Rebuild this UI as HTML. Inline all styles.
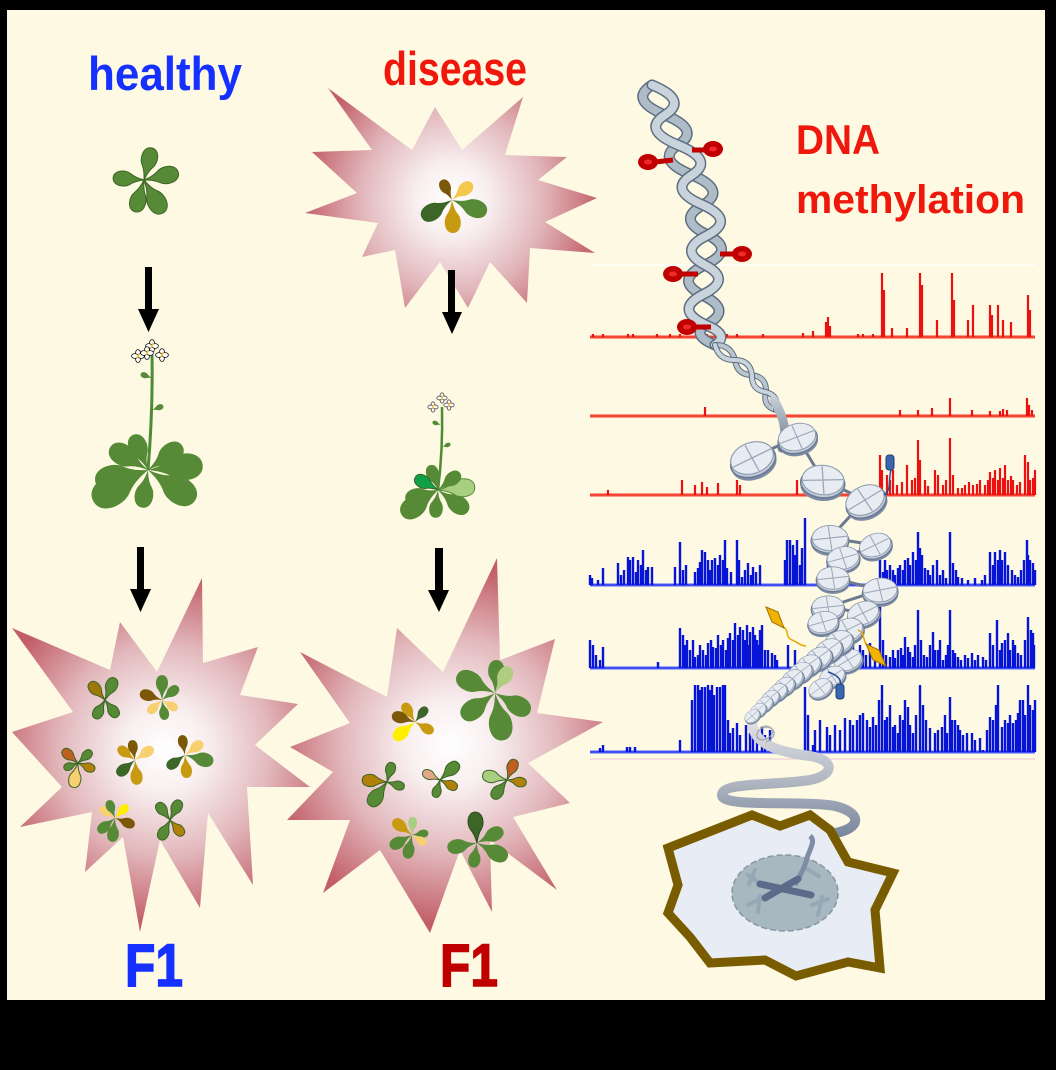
<!DOCTYPE html>
<html><head><meta charset="utf-8"><style>
html,body{margin:0;padding:0;background:#000;}
svg{display:block;}
</style></head><body>
<svg width="1056" height="1070" viewBox="0 0 1056 1070" xmlns="http://www.w3.org/2000/svg">
<defs>
<radialGradient id="g1" gradientUnits="userSpaceOnUse" cx="452" cy="200" r="150"><stop offset="0" stop-color="#fff"/><stop offset="0.25" stop-color="#f8eeef"/><stop offset="0.6" stop-color="#e2b8bc"/><stop offset="1" stop-color="#c25e68"/></radialGradient>
<radialGradient id="g2" gradientUnits="userSpaceOnUse" cx="165" cy="750" r="175"><stop offset="0" stop-color="#fff"/><stop offset="0.25" stop-color="#f8eeef"/><stop offset="0.6" stop-color="#e2b8bc"/><stop offset="1" stop-color="#c25e68"/></radialGradient>
<radialGradient id="g3" gradientUnits="userSpaceOnUse" cx="450" cy="745" r="180"><stop offset="0" stop-color="#fff"/><stop offset="0.25" stop-color="#f8eeef"/><stop offset="0.6" stop-color="#e2b8bc"/><stop offset="1" stop-color="#c25e68"/></radialGradient>
<linearGradient id="rib" gradientUnits="userSpaceOnUse" x1="0" y1="715" x2="0" y2="840"><stop offset="0" stop-color="#e4e5e8"/><stop offset="0.5" stop-color="#b4bac4"/><stop offset="1" stop-color="#74829a"/></linearGradient>
<linearGradient id="tail" gradientUnits="userSpaceOnUse" x1="0" y1="395" x2="0" y2="450"><stop offset="0" stop-color="#c9d2da"/><stop offset="1" stop-color="#6c7a90"/></linearGradient>
<path id="lf" d="M0,0 C5,-1 9,-2 13,-5 C18,-9 30,-8 30,0 C30,8 18,9 13,5 C9,2 5,1 0,0Z" vector-effect="non-scaling-stroke"/>
<g id="nuc">
 <ellipse cx="0" cy="6" rx="21" ry="14" fill="#7d8ca4"/>
 <ellipse cx="0" cy="3" rx="21" ry="14" fill="#c6cdd9" stroke="#6a7993" stroke-width="1.5"/>
 <ellipse cx="0" cy="0" rx="20" ry="14" fill="#e7ebf2" stroke="#8a98ad" stroke-width="1"/>
 <path d="M-19,2 L19,-2 M-2,-13 L2,13" stroke="#9aa6b8" stroke-width="1.2" fill="none"/>
</g>
<g id="fw">
 <ellipse cx="0" cy="-3.2" rx="2.4" ry="3.2" fill="#fff" stroke="#111" stroke-width="0.8"/>
 <ellipse cx="0" cy="3.2" rx="2.4" ry="3.2" fill="#fff" stroke="#111" stroke-width="0.8"/>
 <ellipse cx="-3.2" cy="0" rx="3.2" ry="2.4" fill="#fff" stroke="#111" stroke-width="0.8"/>
 <ellipse cx="3.2" cy="0" rx="3.2" ry="2.4" fill="#fff" stroke="#111" stroke-width="0.8"/>
 <path d="M-1,2 L1.5,-3" stroke="#f5c030" stroke-width="1.6"/>
</g>
</defs>

<!-- background -->
<rect x="0" y="0" width="1056" height="1070" fill="#000"/>
<rect x="7" y="10" width="1038" height="990" fill="#fdf9e2"/>

<!-- starbursts -->
<polygon fill="url(#g1)" points="328,88 412,150 435,107 462,150 523,97 505,155 567,157 538,180 597,198 545,222 595,253 530,248 527,303 490,262 468,308 440,262 405,308 395,250 362,257 378,223 305,213 357,193 312,152 372,150"/>
<polygon fill="url(#g2)" points="12,628 110,670 120,622 157,672 202,578 203,663 258,647 240,695 298,704 255,745 310,787 247,787 253,885 208,813 200,908 160,840 140,932 123,837 85,872 92,812 20,827 62,787 12,732 73,712"/>
<polygon fill="url(#g3)" points="300,652 387,697 397,628 443,672 497,558 500,660 555,639 537,713 603,722 528,763 570,803 513,817 557,890 490,840 492,912 460,850 430,933 380,850 323,893 350,820 287,820 333,772 290,747 350,723"/>

<!-- text -->
<g font-family="'Liberation Sans', Arial, sans-serif" font-weight="bold">
<text x="88" y="90" font-size="47" fill="#1530ff" textLength="154" lengthAdjust="spacingAndGlyphs">healthy</text>
<text x="383" y="85" font-size="47" fill="#f0180c" textLength="144" lengthAdjust="spacingAndGlyphs">disease</text>
<text x="796" y="154" font-size="42" fill="#ee180c" textLength="84" lengthAdjust="spacingAndGlyphs">DNA</text>
<text x="796" y="213" font-size="40" fill="#ee180c" textLength="229" lengthAdjust="spacingAndGlyphs">methylation</text>
<text x="125" y="986" font-size="60" fill="#1530ff" textLength="58" lengthAdjust="spacingAndGlyphs" stroke="#1530ff" stroke-width="1.5">F1</text>
<text x="440" y="986" font-size="60" fill="#c00000" textLength="58" lengthAdjust="spacingAndGlyphs" stroke="#c00000" stroke-width="1.5">F1</text>
</g>

<!-- arrows -->
<g fill="#000">
<rect x="145" y="267" width="7" height="44"/><polygon points="138,309 159,309 148.5,332"/>
<rect x="448" y="270" width="7" height="44"/><polygon points="442,312 462,312 452,334"/>
<rect x="137" y="547" width="7" height="44"/><polygon points="130,589 151,589 140.5,612"/>
<rect x="435" y="548" width="8" height="44"/><polygon points="428,590 449,590 439,612"/>
</g>

<!-- plants -->
<g stroke="#3c6424" stroke-width="1">
<g transform="translate(144 180)" fill="#568a36">
<use href="#lf" transform="rotate(-76) scale(1.1)"/><use href="#lf" transform="rotate(-12) scale(1.17)"/><use href="#lf" transform="rotate(184) scale(1.03)"/><use href="#lf" transform="rotate(106) scale(1.1)"/><use href="#lf" transform="rotate(60) scale(1.27)"/>
</g>
<g transform="translate(452 200)" stroke="none">
<use href="#lf" fill="#7a5808" transform="rotate(-117) scale(0.75)"/><use href="#lf" fill="#f3c84c" transform="rotate(-40) scale(0.87)"/><use href="#lf" fill="#3b6627" transform="rotate(149) scale(1.17)"/><use href="#lf" fill="#c89a12" transform="rotate(88) scale(1.1)"/><use href="#lf" fill="#568a36" transform="rotate(20) scale(1.23)"/>
</g>
<path d="M148,470 Q153,410 152,355" stroke="#4f8a34" stroke-width="3" fill="none"/>
<g fill="#568a36" stroke="none">
<use href="#lf" transform="translate(152 378) rotate(200) scale(0.4)"/>
<use href="#lf" transform="translate(152 410) rotate(-20) scale(0.4)"/>
</g>
<g transform="translate(148 470)" fill="#568a36" stroke="none">
<use href="#lf" transform="rotate(150) scale(2.1)"/><use href="#lf" transform="rotate(167) scale(1.8)"/><use href="#lf" transform="rotate(-149) scale(1.47)"/><use href="#lf" transform="rotate(-113) scale(1.27)"/><use href="#lf" transform="rotate(-36) scale(1.4)"/><use href="#lf" transform="rotate(-5) scale(1.83)"/><use href="#lf" transform="rotate(33) scale(1.87)"/><use href="#lf" transform="rotate(99) scale(1.27)"/>
</g>
<g stroke="none"><use href="#fw" transform="translate(138 356)"/><use href="#fw" transform="translate(162 355)"/><use href="#fw" transform="translate(152 346)"/><use href="#fw" transform="translate(147 353)"/></g>
<path d="M438,490 Q443,450 442,407" stroke="#4f8a34" stroke-width="2.5" fill="none"/>
<g fill="#568a36" stroke="none">
<use href="#lf" transform="translate(441 425) rotate(200) scale(0.3)"/>
<use href="#lf" transform="translate(442 447) rotate(-20) scale(0.3)"/>
</g>
<g transform="translate(438 490)" fill="#568a36" stroke="none">
<use href="#lf" transform="rotate(-108) scale(0.87)"/><use href="#lf" fill="#10a048" stroke="#3c6424" transform="rotate(-151) scale(0.87)"/><use href="#lf" transform="rotate(163) scale(1.13)"/><use href="#lf" transform="rotate(145) scale(1.47)"/><use href="#lf" transform="rotate(96) scale(0.93)"/><use href="#lf" transform="rotate(36) scale(1.23)"/><use href="#lf" fill="#a8cf80" stroke="#4f8a34" transform="rotate(-5) scale(1.23)"/><use href="#lf" transform="rotate(-38) scale(0.93)"/>
</g>
<g stroke="none"><use href="#fw" transform="translate(433 407) scale(0.8)"/><use href="#fw" transform="translate(442 398) scale(0.8)"/><use href="#fw" transform="translate(449 405) scale(0.8)"/></g>

<g transform="translate(105 700)" fill="#568a36"><use href="#lf" fill="#a07808" transform="rotate(-131) scale(0.77)"/><use href="#lf" transform="rotate(-66) scale(0.8)"/><use href="#lf" transform="rotate(119) scale(0.7)"/><use href="#lf" transform="rotate(53) scale(0.7)"/></g>
<g transform="translate(162 700)" fill="#568a36" stroke="none"><use href="#lf" fill="#7a5808" transform="rotate(-162) scale(0.77)"/><use href="#lf" transform="rotate(-90) scale(0.83)"/><use href="#lf" transform="rotate(-39) scale(0.7)"/><use href="#lf" fill="#f7d070" transform="rotate(137) scale(0.63)"/><use href="#lf" fill="#f7d070" transform="rotate(32) scale(0.6)"/><use href="#lf" transform="rotate(81) scale(0.67)"/></g>
<g transform="translate(78 763)" fill="#568a36"><use href="#lf" fill="#c06020" transform="rotate(-139) scale(0.67)"/><use href="#lf" transform="rotate(-42) scale(0.6)"/><use href="#lf" fill="#b08008" transform="rotate(22) scale(0.6)"/><use href="#lf" transform="rotate(159) scale(0.5)"/><use href="#lf" fill="#f7d070" transform="rotate(101) scale(0.83)"/></g>
<g transform="translate(135 760)" fill="#568a36" stroke="none"><use href="#lf" fill="#7a5808" transform="rotate(-99) scale(0.67)"/><use href="#lf" fill="#c89a12" transform="rotate(-143) scale(0.7)"/><use href="#lf" fill="#f7d070" transform="rotate(-34) scale(0.73)"/><use href="#lf" fill="#3b6627" transform="rotate(140) scale(0.77)"/><use href="#lf" fill="#c89a12" transform="rotate(85) scale(0.83)"/></g>
<g transform="translate(185 755)" fill="#568a36" stroke="none"><use href="#lf" fill="#7a5808" transform="rotate(-99) scale(0.67)"/><use href="#lf" fill="#f7d070" transform="rotate(-36) scale(0.73)"/><use href="#lf" transform="rotate(14) scale(0.97)"/><use href="#lf" fill="#3b6627" transform="rotate(144) scale(0.73)"/><use href="#lf" fill="#c89a12" transform="rotate(85) scale(0.77)"/></g>
<g transform="translate(115 818)" fill="#568a36" stroke="none"><use href="#lf" fill="#f7d070" transform="rotate(-146) scale(0.6)"/><use href="#lf" transform="rotate(-111) scale(0.63)"/><use href="#lf" fill="#ffee00" transform="rotate(-45) scale(0.6)"/><use href="#lf" fill="#7a5808" transform="rotate(21) scale(0.7)"/><use href="#lf" transform="rotate(140) scale(0.73)"/><use href="#lf" transform="rotate(97) scale(0.8)"/></g>
<g transform="translate(170 820)" fill="#568a36"><use href="#lf" transform="rotate(-127) scale(0.7)"/><use href="#lf" transform="rotate(-63) scale(0.73)"/><use href="#lf" fill="#b08008" transform="rotate(49) scale(0.67)"/><use href="#lf" transform="rotate(117) scale(0.73)"/></g>

<g transform="translate(415 722)" fill="#568a36" stroke="none"><use href="#lf" fill="#c89a12" transform="rotate(-122) scale(0.73)"/><use href="#lf" fill="#7a5808" transform="rotate(-163) scale(0.8)"/><use href="#lf" fill="#3b6627" transform="rotate(-51) scale(0.63)"/><use href="#lf" fill="#c89a12" transform="rotate(29) scale(0.7)"/><use href="#lf" fill="#ffee00" transform="rotate(141) scale(0.9)"/></g>
<g transform="translate(495 693)" fill="#568a36" stroke="none"><use href="#lf" transform="rotate(-87) scale(1.1)"/><use href="#lf" fill="#b0cc80" transform="rotate(-60) scale(1.0)"/><use href="#lf" transform="rotate(-155) scale(1.4)"/><use href="#lf" transform="rotate(143) scale(1.37)"/><use href="#lf" transform="rotate(80) scale(1.6)"/><use href="#lf" transform="rotate(29) scale(1.33)"/></g>
<g transform="translate(387 782)" fill="#568a36"><use href="#lf" fill="#b08008" transform="rotate(-175) scale(0.83)"/><use href="#lf" transform="rotate(-75) scale(0.67)"/><use href="#lf" transform="rotate(17) scale(0.6)"/><use href="#lf" transform="rotate(126) scale(0.97)"/></g>
<g transform="translate(440 780)" fill="#568a36"><use href="#lf" fill="#e4a888" transform="rotate(-155) scale(0.63)"/><use href="#lf" transform="rotate(-43) scale(0.83)"/><use href="#lf" fill="#b08008" transform="rotate(25) scale(0.63)"/><use href="#lf" transform="rotate(106) scale(0.6)"/></g>
<g transform="translate(507 780)" fill="#568a36"><use href="#lf" fill="#a8cf80" transform="rotate(-168) scale(0.83)"/><use href="#lf" fill="#c06020" transform="rotate(-68) scale(0.73)"/><use href="#lf" fill="#b08008" transform="rotate(9) scale(0.65)"/><use href="#lf" transform="rotate(128) scale(0.77)"/></g>
<g transform="translate(412 835)" fill="#568a36" stroke="none"><use href="#lf" fill="#c89a12" transform="rotate(-142) scale(0.8)"/><use href="#lf" fill="#a8cf80" transform="rotate(-87) scale(0.6)"/><use href="#lf" transform="rotate(-7) scale(0.55)"/><use href="#lf" fill="#f7d070" transform="rotate(32) scale(0.55)"/><use href="#lf" transform="rotate(151) scale(0.83)"/><use href="#lf" transform="rotate(102) scale(0.8)"/></g>
<g transform="translate(477 843)" fill="#568a36" stroke="none"><use href="#lf" fill="#3b6627" stroke="#2a4a1a" transform="rotate(-94) scale(1.03)"/><use href="#lf" transform="rotate(-27) scale(0.97)"/><use href="#lf" transform="rotate(27) scale(1.13)"/><use href="#lf" transform="rotate(99) scale(0.83)"/><use href="#lf" transform="rotate(170) scale(1.0)"/></g>
</g>

<!-- tracks -->
<line x1="590" y1="265" x2="1035" y2="265" stroke="#fffef6" stroke-width="2"/>
<line x1="590" y1="759" x2="1035" y2="759" stroke="#f2d8d8" stroke-width="1.5"/>
<g stroke-linecap="butt" fill="none">
<g stroke="#ff7060" stroke-width="4" opacity="0.7">
<line x1="590" y1="337" x2="1035" y2="337"/><line x1="590" y1="416" x2="1035" y2="416"/><line x1="590" y1="495" x2="1035" y2="495"/>
</g>
<g stroke="#f02818" stroke-width="1.5">
<line x1="590" y1="337" x2="1035" y2="337"/><line x1="590" y1="416" x2="1035" y2="416"/><line x1="590" y1="495" x2="1035" y2="495"/>
</g>
<g stroke="#ec1010" stroke-width="2.2">
<path d="M593,337V334M603,337V334M628,337V334M633,337V334M657,337V334M670,337V334M680,337V334M707,337V334M717,337V334M727,337V334M737,337V334M763,337V334M803,337V333M813,337V331M826,337V322M828,337V317M830,337V326M858,337V334M863,337V334M873,337V334M882,337V273M884,337V290M892,337V328M907,337V328M920,337V273M922,337V285M937,337V320M952,337V273M954,337V300M968,337V320M973,337V305M990,337V305M992,337V315M998,337V305M1003,337V320M1011,337V322M1028,337V295M1030,337V310"/>
<path d="M705,416V407M900,416V410M918,416V410M932,416V408M950,416V398M972,416V410M990,416V411M1000,416V411M1003,416V409M1007,416V410M1027,416V398M1029,416V405M1032,416V410"/>
<path d="M608,495V490M682,495V480M695,495V485M702,495V482M707,495V487M718,495V483M737,495V480M740,495V485M797,495V480M880,495V455M882,495V470M887,495V475M893,495V470M897,495V485M907,495V465M912,495V480M918,495V440M920,495V460M925,495V480M935,495V470M938,495V475M943,495V485M950,495V438M953,495V475M958,495V488M965,495V485M973,495V485M980,495V480M985,495V485M990,495V472M993,495V478M995,495V470M998,495V480M1000,495V468M1003,495V478M1005,495V465M1008,495V480M1013,495V480M1017,495V485M1025,495V455M1028,495V462M1030,495V480M1033,495V478M890,495V480M902,495V482M915,495V478M928,495V486M946,495V480M962,495V488M969,495V482M977,495V484M988,495V480M1011,495V476M1020,495V482M1035,495V470"/>
</g>
<g stroke="#6a7aff" stroke-width="4" opacity="0.6">
<line x1="590" y1="585" x2="1035" y2="585"/><line x1="590" y1="668" x2="1035" y2="668"/><line x1="590" y1="752" x2="1035" y2="752"/>
</g>
<g stroke="#2030f0" stroke-width="1.5">
<line x1="590" y1="585" x2="1035" y2="585"/><line x1="590" y1="668" x2="1035" y2="668"/><line x1="590" y1="752" x2="1035" y2="752"/>
</g>
<g stroke="#0614d8" stroke-width="2.4">
<path d="M590,585V575M603,585V568M618,585V563M628,585V557M630,585V560M633,585V557M638,585V560M643,585V550M648,585V567M652,585V567M675,585V567M680,585V542M695,585V572M702,585V550M705,585V552M708,585V560M712,585V560M715,585V558M720,585V555M725,585V540M737,585V540M742,585V577M748,585V563M753,585V567M760,585V565M787,585V540M790,585V540M793,585V545M797,585V540M805,585V518M828,585V557M832,585V560M880,585V560M887,585V570M895,585V575M900,585V565M905,585V560M910,585V565M913,585V552M918,585V532M922,585V555M928,585V570M937,585V560M940,585V575M950,585V532M953,585V563M958,585V577M968,585V580M982,585V580M990,585V552M995,585V552M1000,585V550M1005,585V552M1012,585V570M1018,585V577M1027,585V540M1028,585V555M1033,585V563"/>
<path d="M592,585V578M598,585V580M621,585V575M624,585V570M636,585V572M641,585V565M646,585V570M683,585V570M686,585V565M698,585V568M700,585V562M710,585V570M718,585V565M723,585V560M727,585V568M731,585V572M739,585V560M745,585V570M751,585V575M756,585V572M785,585V560M795,585V555M800,585V565M802,585V548M883,585V572M885,585V560M890,585V565M893,585V570M898,585V568M903,585V570M908,585V558M916,585V560M920,585V548M925,585V568M930,585V575M933,585V565M943,585V570M946,585V578M956,585V570M962,585V578M975,585V578M985,585V575M993,585V565M998,585V560M1002,585V560M1008,585V565M1015,585V575M1021,585V570M1024,585V560M1030,585V560M1035,585V570"/>
<path d="M590,668V640M593,668V645M603,668V647M658,668V662M680,668V628M683,668V635M687,668V640M695,668V657M703,668V650M708,668V643M713,668V647M718,668V635M723,668V640M730,668V633M735,668V623M740,668V627M743,668V630M747,668V625M750,668V632M753,668V627M757,668V640M762,668V625M765,668V650M772,668V653M777,668V660M788,668V645M795,668V650M847,668V647M853,668V640M860,668V645M870,668V643M880,668V607M890,668V657M898,668V650M905,668V637M908,668V647M913,668V657M918,668V610M927,668V657M933,668V632M938,668V650M943,668V660M950,668V610M955,668V653M958,668V657M972,668V653M983,668V657M990,668V633M997,668V620M1002,668V643M1008,668V633M1013,668V640M1018,668V653M1028,668V617M1033,668V633"/>
<path d="M596,668V655M600,668V660M685,668V645M690,668V650M693,668V640M698,668V655M700,668V645M706,668V655M711,668V640M716,668V648M721,668V645M726,668V650M728,668V638M733,668V640M738,668V635M745,668V640M749,668V645M755,668V635M759,668V645M760,668V630M768,668V650M775,668V655M845,668V655M850,668V650M856,668V652M863,668V650M866,668V655M875,668V650M883,668V640M886,668V655M893,668V650M895,668V658M901,668V648M903,668V655M910,668V652M915,668V645M921,668V640M924,668V655M930,668V645M935,668V650M940,668V640M946,668V655M948,668V645M953,668V650M961,668V660M965,668V655M968,668V658M975,668V660M978,668V655M986,668V660M993,668V645M1000,668V650M1005,668V640M1010,668V650M1015,668V645M1021,668V655M1025,668V640M1031,668V630M1034,668V645"/>
<path d="M603,752V745M627,752V747M630,752V747M635,752V747M680,752V740M695,752V685M698,752V685M702,752V687M705,752V687M708,752V685M712,752V685M717,752V687M720,752V687M723,752V685M725,752V685M730,752V733M737,752V723M753,752V730M762,752V727M770,752V730M805,752V687M813,752V745M827,752V727M850,752V720M857,752V720M863,752V713M870,752V727M873,752V717M882,752V685M887,752V717M893,752V727M898,752V733M903,752V720M908,752V707M913,752V733M920,752V685M935,752V733M942,752V727M947,752V733M950,752V697M955,752V720M960,752V730M972,752V733M983,752V750M990,752V717M993,752V720M998,752V685M1002,752V727M1008,752V723M1013,752V723M1018,752V713M1023,752V700M1028,752V685M1033,752V710"/>
<path d="M600,752V748M692,752V700M700,752V690M710,752V690M714,752V695M728,752V720M733,752V728M740,752V735M746,752V725M750,752V733M757,752V738M765,752V735M808,752V715M815,752V730M820,752V720M830,752V735M835,752V725M840,752V730M845,752V718M853,752V725M860,752V715M867,752V720M876,752V725M879,752V700M885,752V720M890,752V705M895,752V725M900,752V715M905,752V700M910,752V725M916,752V715M923,752V705M926,752V720M930,752V728M938,752V730M945,752V715M952,752V720M958,752V725M963,752V735M967,752V733M975,752V740M980,752V738M987,752V730M996,752V705M1005,752V720M1010,752V715M1016,752V720M1020,752V700M1025,752V715M1030,752V705M1035,752V700"/>
</g>
</g>

<!-- DNA helix -->
<g fill="none" stroke-linecap="round">
<path d="M652,85 Q628.5,100 665,115 Q701.5,130 678,145 Q655,160 692,175 Q727.5,190 703,205 Q675.5,220 708,235 Q736.5,250 705,265 Q673.5,280 702,295 Q734,310 706,325 Q690.5,335 715,345" stroke="#5e6e82" stroke-width="11"/>
<path d="M652,85 Q628.5,100 665,115 Q701.5,130 678,145 Q655,160 692,175 Q727.5,190 703,205 Q675.5,220 708,235 Q736.5,250 705,265 Q673.5,280 702,295 Q734,310 706,325 Q690.5,335 715,345" stroke="#aebcc8" stroke-width="8"/>
<path d="M652,85 Q688.5,100 665,115 Q641.5,130 678,145 Q715,160 692,175 Q667.5,190 703,205 Q735.5,220 708,235 Q676.5,250 705,265 Q733.5,280 702,295 Q674,310 706,325 Q730.5,335 715,345" stroke="#5e6e82" stroke-width="11"/>
<path d="M652,85 Q688.5,100 665,115 Q641.5,130 678,145 Q715,160 692,175 Q667.5,190 703,205 Q735.5,220 708,235 Q676.5,250 705,265 Q733.5,280 702,295 Q674,310 706,325 Q730.5,335 715,345" stroke="#c8d3dc" stroke-width="8"/>
<path d="M715,345 Q731,344.5 735,360 Q737,375 752,375 Q766.7,377.1 766,392 Q762.3,406 776,410" stroke="#5e6e82" stroke-width="6"/>
<path d="M715,345 Q731,344.5 735,360 Q737,375 752,375 Q766.7,377.1 766,392 Q762.3,406 776,410" stroke="#b8c4ce" stroke-width="4"/>
<path d="M715,345 Q719,360.5 735,360 Q750,360 752,375 Q751.3,389.9 766,392 Q779.7,396 776,410" stroke="#5e6e82" stroke-width="6"/>
<path d="M715,345 Q719,360.5 735,360 Q750,360 752,375 Q751.3,389.9 766,392 Q779.7,396 776,410" stroke="#c8d3dc" stroke-width="4"/>
<path d="M774,400 C784,418 788,432 782,448" stroke="url(#tail)" stroke-width="9"/>
</g>

<!-- methyl groups -->
<g stroke="#c00000" stroke-width="5">
<line x1="655" y1="162" x2="673" y2="160"/><line x1="692" y1="150" x2="708" y2="150"/><line x1="720" y1="254" x2="736" y2="254"/><line x1="680" y1="274" x2="698" y2="274"/><line x1="694" y1="327" x2="711" y2="327"/>
</g>
<g fill="#c00000">
<ellipse cx="648" cy="162" rx="10" ry="8"/><ellipse cx="713" cy="149" rx="10" ry="8"/><ellipse cx="742" cy="254" rx="10" ry="8"/><ellipse cx="673" cy="274" rx="10" ry="8"/><ellipse cx="687" cy="327" rx="10" ry="8"/>
</g>
<g fill="#ee2a2a">
<ellipse cx="648" cy="162" rx="4" ry="2.5"/><ellipse cx="713" cy="149" rx="4" ry="2.5"/><ellipse cx="742" cy="254" rx="4" ry="2.5"/><ellipse cx="673" cy="274" rx="4" ry="2.5"/><ellipse cx="687" cy="327" rx="4" ry="2.5"/>
</g>

<!-- bottom ribbon -->
<path d="M752,718 C750,745 780,752 810,756 C835,760 835,775 810,780 C770,786 722,782 722,795 C722,808 800,800 835,806 C860,812 862,826 840,832 C815,838 785,832 790,842 C795,852 815,855 810,868 C806,878 800,880 795,885" fill="none" stroke="url(#rib)" stroke-width="10" stroke-linecap="round"/>
<path d="M760,728 c10,-6 18,4 8,10 c-10,6 -16,-4 -6,-10 c12,-4 18,8 4,14" fill="none" stroke="#9aa0aa" stroke-width="1.5" opacity="0.8"/>

<!-- cell -->
<polygon points="668,848 752,815 780,826 810,815 830,830 848,862 893,873 875,910 880,968 848,962 796,976 765,960 710,963 690,937 668,913 678,885" fill="#e8ecf4" stroke="#7a5c00" stroke-width="9" stroke-linejoin="miter"/>
<ellipse cx="785" cy="893" rx="53" ry="38" fill="#a7b8c1" stroke="#8597a4" stroke-width="1.5" stroke-dasharray="6 3"/>
<g stroke="#91a4b2" stroke-width="4" stroke-linecap="round" fill="none" opacity="0.8">
<path d="M748,875 l14,10 M755,870 l-6,14 M748,905 l16,-8 M758,912 l2,-16 M812,905 l16,-6 M818,915 l4,-18 M805,868 l14,8"/>
</g>
<path d="M795,885 C800,875 805,868 808,855 C812,845 815,840 810,836" fill="none" stroke="#7f8da4" stroke-width="5"/>
<g stroke="#5b6b89" stroke-width="7" stroke-linecap="round">
<line x1="760" y1="884" x2="811" y2="895"/><line x1="765" y1="898" x2="798" y2="879"/>
</g>

<!-- chromatin -->
<polyline points="752,458 797,437 823,480 865,500 830,538 875,545 843,558 833,578 880,590 828,607 863,613 847,630 820,650 790,675 752,715" fill="none" stroke="#6a7890" stroke-width="3"/>
<g>
<use href="#nuc" transform="translate(865 500) rotate(-25) scale(1.0)"/>
<use href="#nuc" transform="translate(823 480) rotate(5) scale(1.05)"/>
<use href="#nuc" transform="translate(797 437) rotate(-15) scale(0.95)"/>
<use href="#nuc" transform="translate(752 458) rotate(-20) scale(1.1)"/>
<use href="#nuc" transform="translate(875 545) rotate(-20) scale(0.8)"/>
<use href="#nuc" transform="translate(830 538) rotate(0) scale(0.9)"/>
<use href="#nuc" transform="translate(880 590) rotate(-5) scale(0.85)"/>
<use href="#nuc" transform="translate(843 558) rotate(-10) scale(0.8)"/>
<use href="#nuc" transform="translate(833 578) rotate(0) scale(0.8)"/>
<use href="#nuc" transform="translate(863 613) rotate(-20) scale(0.8)"/>
<use href="#nuc" transform="translate(828 607) rotate(0) scale(0.8)"/>
<use href="#nuc" transform="translate(848 660) rotate(-25) scale(0.7)"/>
<use href="#nuc" transform="translate(847 630) rotate(-20) scale(0.8)"/>
<use href="#nuc" transform="translate(823 622) rotate(-10) scale(0.75)"/>
<use href="#nuc" transform="translate(832 676) rotate(-25) scale(0.65)"/>
<use href="#nuc" transform="translate(838 642) rotate(-25) scale(0.75)"/>
<use href="#nuc" transform="translate(828 650) rotate(-30) scale(0.72)"/>
<use href="#nuc" transform="translate(818 658) rotate(-30) scale(0.7)"/>
<use href="#nuc" transform="translate(808 665) rotate(-30) scale(0.65)"/>
<use href="#nuc" transform="translate(820 688) rotate(-30) scale(0.6)"/>
<use href="#nuc" transform="translate(800 672) rotate(-30) scale(0.62)"/>
<use href="#nuc" transform="translate(792 679) rotate(-35) scale(0.58)"/>
<use href="#nuc" transform="translate(784 686) rotate(-35) scale(0.55)"/>
<use href="#nuc" transform="translate(777 692) rotate(-35) scale(0.52)"/>
<use href="#nuc" transform="translate(770 698) rotate(-35) scale(0.48)"/>
<use href="#nuc" transform="translate(764 704) rotate(-35) scale(0.45)"/>
<use href="#nuc" transform="translate(758 710) rotate(-35) scale(0.42)"/>
<use href="#nuc" transform="translate(752 716) rotate(-35) scale(0.4)"/>
</g>
<g fill="none" stroke-width="1.5">
<path d="M884,495 C892,490 888,480 891,470" stroke="#2a4e9a"/>
<path d="M828,672 C838,675 842,680 840,686" stroke="#2a4e9a"/>
<path d="M783,627 C790,630 784,636 792,640 C798,642 800,646 806,646" stroke="#e8a800"/>
<path d="M867,645 C862,640 866,634 858,630" stroke="#e8a800"/>
</g>
<rect x="886" y="455" width="8" height="15" rx="3" fill="#3a68b0" stroke="#203c78" stroke-width="1"/>
<rect x="836" y="684" width="8" height="15" rx="3" fill="#3a68b0" stroke="#203c78" stroke-width="1"/>
<polygon points="766,607 778,612 784,628 772,622" fill="#f0b400" stroke="#a07000" stroke-width="1"/>
<polygon points="866,644 879,650 886,666 873,660" fill="#f0b400" stroke="#a07000" stroke-width="1"/>
</svg>
</body></html>
